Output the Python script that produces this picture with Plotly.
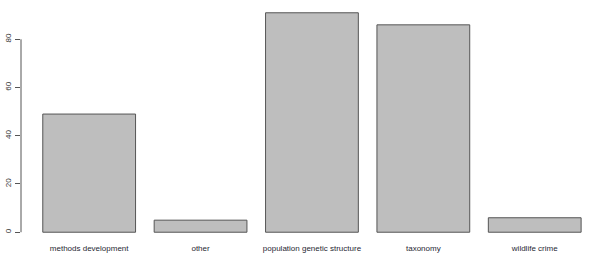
import plotly.graph_objects as go

categories = ["methods development", "other", "population genetic structure", "taxonomy", "wildlife crime"]
counts = [49, 5, 91, 86, 6]
y_ticks = [0, 20, 40, 60, 80]

fig = go.Figure()
fig.add_trace(go.Bar(
    x=categories, y=counts,
    marker=dict(color="#BEBEBE", line=dict(color="#555555", width=1)),
    width=0.833,
))

fig.add_shape(type="line", xref="paper", yref="y", x0=0, x1=0,
              y0=y_ticks[0], y1=y_ticks[-1], line=dict(color="#555555", width=1))

fig.update_layout(
    width=601, height=276,
    margin=dict(l=21, r=0, t=4, b=35),
    plot_bgcolor="white", paper_bgcolor="white",
    showlegend=False,
    font=dict(family="Liberation Sans, Arial, sans-serif", size=8, color="#222222"),
    xaxis=dict(range=[-0.612, 4.595], showline=False, showgrid=False, zeroline=False,
               ticks="", tickfont=dict(size=8, color="#1f1f33"), ticklabelstandoff=1),
    yaxis=dict(range=[-3.64, 94.64], showline=False, showgrid=False, zeroline=False,
               tickvals=y_ticks, ticktext=[str(v) for v in y_ticks],
               ticks="outside", ticklen=5, tickcolor="#555555", tickwidth=1,
               tickangle=-90, tickfont=dict(size=8, color="#333333"),
               ticklabelstandoff=1),
)

fig.write_html("out.html")
